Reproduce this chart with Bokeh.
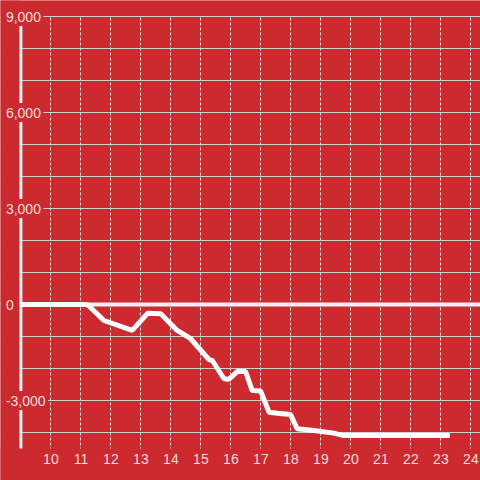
from bokeh.plotting import figure
from bokeh.models import FixedTicker, SingleIntervalTicker, Grid, Label
from bokeh.embed import file_html
from bokeh.resources import INLINE

# ---- data (hours of day, cumulative value) ----
hours = [9.0, 11.16, 11.25, 11.77, 12.71, 13.23, 13.66, 14.21, 14.66, 15.27,
         15.38, 15.77, 15.93, 16.23, 16.49, 16.71, 16.99, 17.27, 17.55, 17.99,
         18.21, 18.77, 19.43, 19.73, 23.3]
values = [0, 0, -30, -500, -810, -270, -290, -810, -1070, -1720,
          -1750, -2320, -2340, -2085, -2095, -2690, -2700, -3365, -3400, -3440,
          -3885, -3940, -4020, -4090, -4090]

x_ticks = [10, 11, 12, 13, 14, 15, 16, 17, 18, 19, 20, 21, 22, 23, 24]
x_tick_labels = ["10", "11", "12", "13", "14", "15", "16", "17", "18", "19",
                 "20", "21", "22", "23", "24"]
y_tick_values = [-3000, 0, 3000, 6000, 9000]
y_tick_labels = ["-3,000", "0", "3,000", "6,000", "9,000"]

axis_x = 9.0          # where the y axis sits (start of the data)
top_value = 9000      # top of the gridded area
bottom_value = -4500  # bottom of the gridded area
x_start, x_end = 8.32, 24.32
y_start, y_end = -5500, 9500

W = H = 480
BG = "#cc2a2f"
LABEL = "#f4dcdc"
FONT = "Liberation Sans"
FS = 14

p = figure(width=W, height=H, x_range=(x_start, x_end), y_range=(y_start, y_end),
           output_backend="svg", toolbar_location=None,
           x_axis_location=None, y_axis_location=None,
           min_border_left=0, min_border_right=0, min_border_top=0, min_border_bottom=0,
           background_fill_color=BG, border_fill_color=BG, outline_line_color=None)
p.xgrid.grid_line_color = None
p.ygrid.grid_line_color = None

# vertical dotted grid at the hour ticks
p.add_layout(Grid(dimension=0, ticker=FixedTicker(ticks=x_ticks),
                  grid_line_color="#e2e2e2", grid_line_dash="3 2", grid_line_width=1))
# horizontal grid every 1000
p.add_layout(Grid(dimension=1, ticker=SingleIntervalTicker(interval=1000),
                  grid_line_color="#d2d2d2", grid_line_width=1))
# zero line
p.add_layout(Grid(dimension=1, ticker=FixedTicker(ticks=[0]),
                  grid_line_color="#f2f2f2", grid_line_width=4))

# masks: keep the grid inside the plotting area
p.quad(left=x_start, right=axis_x, bottom=y_start, top=y_end, fill_color=BG, line_color=None)
p.quad(left=x_start, right=x_end, bottom=top_value + 15, top=y_end, fill_color=BG, line_color=None)
p.quad(left=x_start, right=x_end, bottom=y_start, top=bottom_value, fill_color=BG, line_color=None)

# y axis line
p.segment(x0=axis_x, y0=bottom_value, x1=axis_x, y1=top_value,
          line_color="#f2f2f2", line_width=3)

# label background boxes (hide axis and grid lines under the y labels)
px_per_unit = W / (x_end - x_start)
char_w = {",": 0.278, "-": 0.333}
label_off = -15
box_x, box_w = [], []
for t in y_tick_labels:
    w = sum(char_w.get(c, 0.556) for c in t) * FS
    bw = w + 4
    box_w.append(bw)
    box_x.append(axis_x + (label_off - 1.5 + bw / 2) / px_per_unit)
p.rect(x=box_x, y=y_tick_values, width=box_w, height=19,
       width_units="screen", height_units="screen", fill_color=BG, line_color=None)

# data line
p.line(hours, values, line_color="#ffffff", line_width=5)

# y tick labels
for v, t in zip(y_tick_values, y_tick_labels):
    p.add_layout(Label(x=axis_x, y=v, text=t, x_offset=label_off,
                       text_align="left", text_baseline="middle",
                       text_color=LABEL, text_font=FONT, text_font_size=f"{FS}px"))

# x tick labels
for v, t in zip(x_ticks, x_tick_labels):
    p.add_layout(Label(x=v, y=bottom_value, text=t, y_offset=-5,
                       text_align="center", text_baseline="top",
                       text_color=LABEL, text_font=FONT, text_font_size=f"{FS}px"))

open("out.html", "w").write(file_html(p, INLINE))
